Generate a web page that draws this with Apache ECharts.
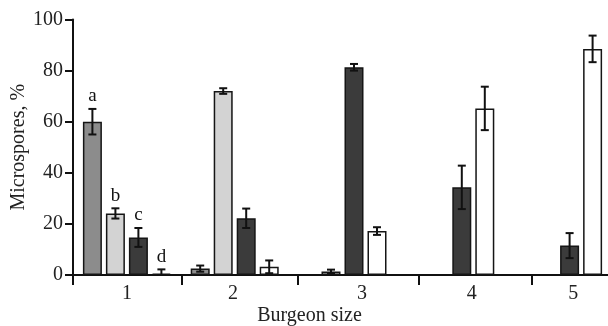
<!DOCTYPE html>
<html><head><meta charset="utf-8">
<script src="https://cdn.jsdelivr.net/npm/echarts@6/dist/echarts.min.js"></script>
<style>html,body{margin:0;padding:0;background:#fff}#c{width:608px;height:326px}</style>
</head><body><div id="c"></div>
<script>
const categories = ['1', '2', '3', '4', '5'];
const seriesA = [60, 2.5, null, null, null];
const errA    = [5, 1.2, null, null, null];
const seriesB = [24.1, 72, 1.4, null, null];
const errB    = [2, 1.1, 0.7, null, null];
const seriesC = [14.7, 22.2, 81.3, 34.3, 11.5];
const errC    = [3.7, 3.8, 1.3, 8.5, 4.9];
const seriesD = [0.5, 3.2, 17.2, 65.2, 88.5];
const errD    = [1.7, 2.5, 1.5, 8.5, 5.2];
const letters = ['a', 'b', 'c', 'd'];
const xTickPositions = [0.5, 1.511, 2.587, 3.71, 4.758];
const xLabelPositions = [1.0, 1.984, 3.18, 4.2, 5.14];
const xLabels = ['1', '2', '3', '4', '5'];

const FONT = 'Liberation Serif';
const FS = 20;
const colors = ['#8c8c8c', '#d3d3d3', '#3b3b3b', '#ffffff'];
const BAR_W = 19, SLOT = 23;
const allVals = [seriesA, seriesB, seriesC, seriesD];
const allErr = [errA, errB, errC, errD];

const chart = echarts.init(document.getElementById('c'), null, {renderer: 'canvas'});

const series = [];
allVals.forEach((vals, k) => {
  series.push({
    type: 'bar', xAxisIndex: 0, data: vals, barWidth: BAR_W, barGap: ((SLOT - BAR_W) / BAR_W * 100) + '%',
    itemStyle: {color: colors[k], borderColor: '#151515', borderWidth: 1.5},
    animation: false, silent: true
  });
});
allVals.forEach((vals, k) => {
  const data = [];
  vals.forEach((v, i) => { if (v != null) data.push([i, v, allErr[k][i]]); });
  series.push({
    type: 'custom', xAxisIndex: 0, data: data, z: 5, animation: false, silent: true,
    renderItem: function (params, api) {
      const i = api.value(0), v = api.value(1), e = api.value(2);
      const off = (k - 1.5) * SLOT;
      const hi = api.coord([i, v + e]);
      const lo = api.coord([i, Math.max(v - e, 0)]);
      const x = hi[0] + off;
      const cap = 4;
      const st = {stroke: '#111', lineWidth: 2};
      const children = [
        {type: 'line', shape: {x1: x, y1: hi[1], x2: x, y2: lo[1]}, style: st},
        {type: 'line', shape: {x1: x - cap, y1: hi[1], x2: x + cap, y2: hi[1]}, style: st},
        {type: 'line', shape: {x1: x - cap, y1: lo[1], x2: x + cap, y2: lo[1]}, style: st}
      ];
      if (i === 0) {
        children.push({type: 'text', x: x, y: hi[1] - 3, style: {text: letters[k], fill: '#111', font: '19px "' + FONT + '"', align: 'center', verticalAlign: 'bottom'}});
      }
      return {type: 'group', children: children};
    }
  });
});

chart.setOption({
  animation: false,
  grid: {left: 73, right: -4, top: 19.5, bottom: 51, containLabel: false, outerBoundsMode: 'none'},
  xAxis: [
    {type: 'category', data: categories, show: false},
    {type: 'value', min: 0.5, max: 5.5, position: 'bottom',
      axisLine: {show: true, onZero: false, lineStyle: {color: '#111', width: 2}},
      axisTick: {show: true, inside: false, length: 10, customValues: xTickPositions, lineStyle: {color: '#111', width: 2}},
      axisLabel: {show: true, customValues: xLabelPositions, margin: 9,
        formatter: function (val) { const idx = xLabelPositions.findIndex(p => Math.abs(p - val) < 1e-6); return idx >= 0 ? xLabels[idx] : ''; },
        fontFamily: FONT, fontSize: FS, color: '#222'},
      splitLine: {show: false},
      name: 'Burgeon size', nameLocation: 'middle', nameGap: 31, nameMoveOverlap: false,
      nameTextStyle: {fontFamily: FONT, fontSize: FS, color: '#222', padding: [0, 66, 0, 0]}
    }
  ],
  yAxis: {
    type: 'value', min: 0, max: 100, interval: 20,
    axisLine: {show: true, lineStyle: {color: '#111', width: 2}},
    axisTick: {show: true, length: 8, lineStyle: {color: '#111', width: 2}},
    axisLabel: {fontFamily: FONT, fontSize: FS, color: '#222', margin: 10},
    splitLine: {show: false},
    name: 'Microspores, %', nameLocation: 'middle', nameGap: 44, nameMoveOverlap: false,
    nameTextStyle: {fontFamily: FONT, fontSize: FS, color: '#222', padding: [0, 0, 0, 0]}
  },
  series: series
});
</script></body></html>
